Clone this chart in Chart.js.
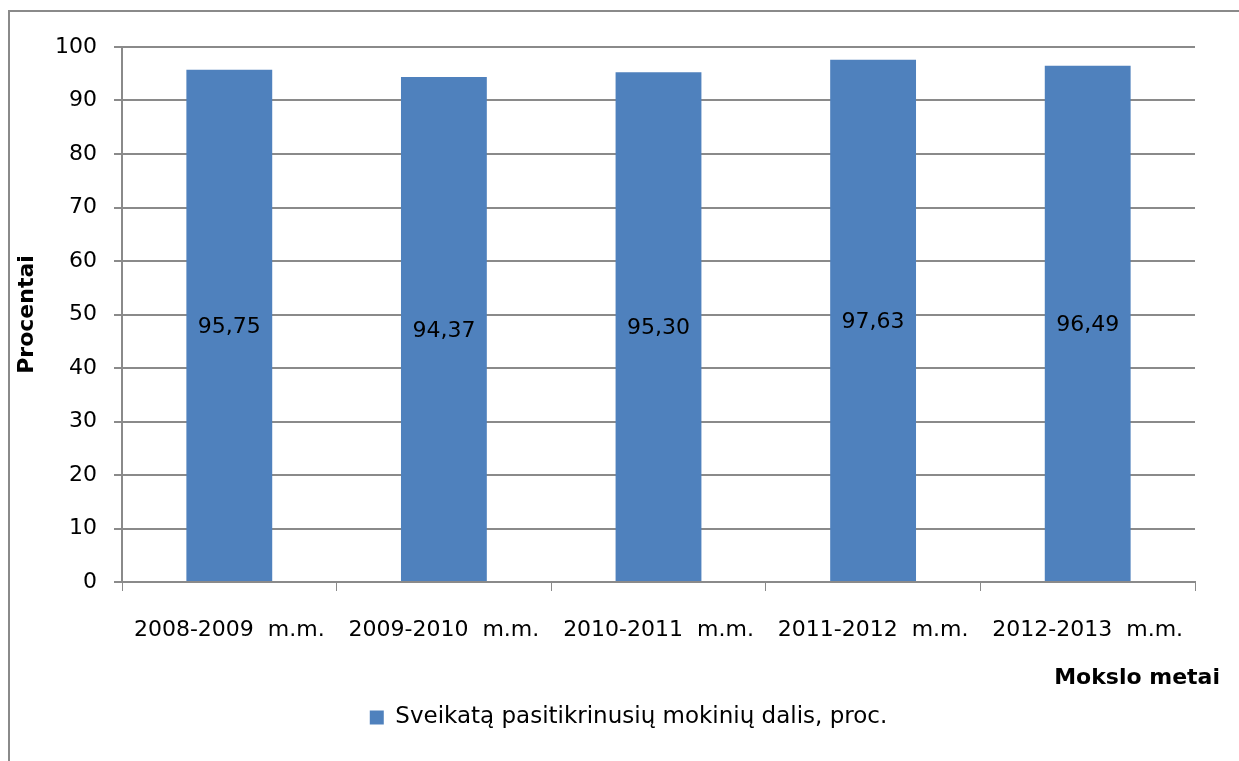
<!DOCTYPE html>
<html>
<head>
<meta charset="utf-8">
<script src="https://cdn.jsdelivr.net/npm/chart.js@4"></script>
<style>
  html, body { margin: 0; padding: 0; background: #fff; overflow: hidden; }
  #wrap { position: relative; width: 1239px; height: 761px; overflow: hidden; }
  #frame { position: absolute; left: 8px; top: 10px; width: 1260px; height: 780px;
           border-left: 2px solid #8a8a8a; border-top: 2px solid #8a8a8a; }
  canvas { position: absolute; left: 0; top: 0; }
</style>
</head>
<body>
<div id="wrap">
  <div id="frame"></div>
  <canvas id="chart" width="1239" height="761"></canvas>
</div>
<script>
// mokslo metai ir sveikatą pasitikrinusių mokinių dalis
const years = ['2008-2009  m.m.', '2009-2010  m.m.', '2010-2011  m.m.', '2011-2012  m.m.', '2012-2013  m.m.'];
const shares = [95.75, 94.37, 95.30, 97.63, 96.49];
const yTicks = [0, 10, 20, 30, 40, 50, 60, 70, 80, 90, 100];
const xTitle = 'Mokslo metai';
const yTitle = 'Procentai';
const seriesName = 'Sveikatą pasitikrinusių mokinių dalis, proc.';

const FONT = '"DejaVu Sans", Verdana, sans-serif';
const SIZE = 22;
const GRID = '#8a8a8a';
const BLUE = '#4f81bd';

const fmt = v => v.toFixed(2).replace('.', ',');

// values written in the middle of each bar
const barLabels = {
  id: 'barLabels',
  afterDatasetsDraw(chart) {
    const ctx = chart.ctx;
    const meta = chart.getDatasetMeta(0);
    ctx.save();
    ctx.font = SIZE + 'px ' + FONT;
    ctx.fillStyle = '#000';
    ctx.textAlign = 'center';
    ctx.textBaseline = 'middle';
    meta.data.forEach((bar, i) => {
      const p = bar.getCenterPoint();
      ctx.fillText(fmt(shares[i]), p.x, p.y + 2);
    });
    ctx.restore();
  }
};

// x axis title sits right-aligned past the end of the axis
const xAxisTitle = {
  id: 'xAxisTitle',
  afterDraw(chart) {
    const ctx = chart.ctx;
    const x = chart.scales.x;
    ctx.save();
    ctx.font = 'bold ' + SIZE + 'px ' + FONT;
    ctx.fillStyle = '#000';
    ctx.textAlign = 'right';
    ctx.textBaseline = 'middle';
    ctx.fillText(xTitle, x.right + 25, x.top + 96);
    ctx.restore();
  }
};

// legend is centred on the whole frame, not just the plot width
const legendShift = {
  id: 'legendShift',
  afterLayout(chart) {
    chart.legend.left += 24;
    chart.legend.right += 24;
  }
};

new Chart(document.getElementById('chart'), {
  type: 'bar',
  data: {
    labels: years,
    datasets: [{
      label: seriesName,
      data: shares,
      backgroundColor: BLUE,
      barPercentage: 0.4,
      categoryPercentage: 1.0,
    }]
  },
  options: {
    responsive: false,
    animation: false,
    layout: { padding: { left: 14, top: 47, right: 44, bottom: 22 } },
    plugins: {
      legend: {
        position: 'bottom',
        labels: { font: { family: FONT, size: 23 }, color: '#000', boxWidth: 14, boxHeight: 14, padding: 6 }
      },
      tooltip: { enabled: false }
    },
    scales: {
      x: {
        afterFit: s => { s.height = 118; },
        grid: { drawOnChartArea: false, drawTicks: true, tickLength: 9, color: GRID, offset: true },
        border: { color: GRID, width: 2 },
        ticks: { font: { family: FONT, size: SIZE }, color: '#000', padding: 26, maxRotation: 0 }
      },
      y: {
        min: 0, max: 100,
        afterFit: s => { s.width = 108; },
        afterBuildTicks: s => { s.ticks = yTicks.map(v => ({ value: v })); },
        grid: { color: GRID, lineWidth: 2, tickLength: 8 },
        border: { color: GRID, width: 2 },
        ticks: { font: { family: FONT, size: SIZE }, color: '#000', padding: 17 },
        title: { display: true, text: yTitle, font: { family: FONT, size: SIZE, weight: 'bold' }, color: '#000', padding: 0 }
      }
    }
  },
  plugins: [barLabels, xAxisTitle, legendShift]
});
</script>
</body>
</html>
